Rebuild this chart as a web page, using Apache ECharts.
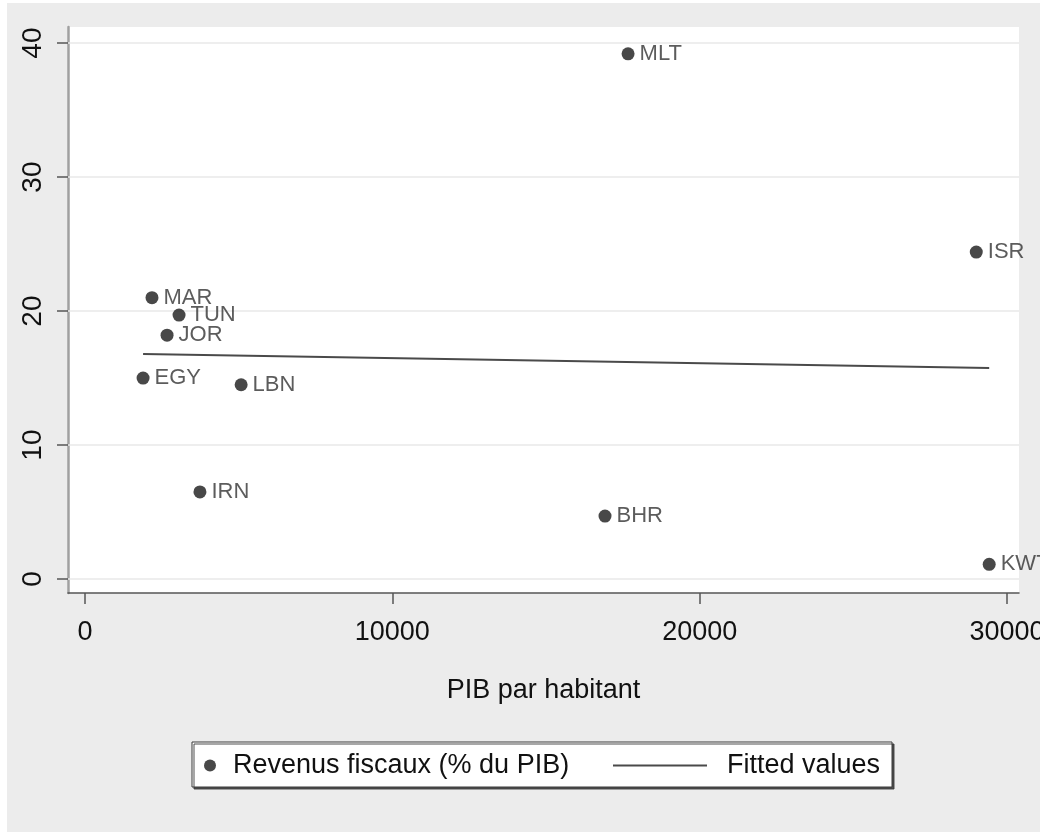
<!DOCTYPE html>
<html>
<head>
<meta charset="utf-8">
<script src="https://cdn.jsdelivr.net/npm/echarts@6/dist/echarts.min.js"></script>
<style>
  html, body { margin: 0; padding: 0; background: #fff; }
  #chart { width: 1040px; height: 832px; }
</style>
</head>
<body>
<div id="chart"></div>
<script>
// Country codes, GDP per capita and tax revenue (% of GDP)
const countries = ['MLT', 'ISR', 'MAR', 'TUN', 'JOR', 'EGY', 'LBN', 'IRN', 'BHR', 'KWT'];
const gdpPerCapita = [17670, 29000, 2180, 3060, 2670, 1890, 5080, 3740, 16920, 29420];
const taxRevenue = [39.2, 24.4, 21.0, 19.7, 18.2, 15.0, 14.5, 6.5, 4.7, 1.1];

// Linear fit endpoints (over the observed GDP range)
const fitX = [1890, 29420];
const fitY = [16.8, 15.75];

// Axis ticks
const xTicks = [0, 10000, 20000, 30000];
const yTicks = [0, 10, 20, 30, 40];

const seriesNames = ['Revenus fiscaux (% du PIB)', 'Fitted values'];
const xTitle = 'PIB par habitant';

const FONT = '"Liberation Sans", Arial, Helvetica, sans-serif';

const points = countries.map((c, i) => ({ name: c, value: [gdpPerCapita[i], taxRevenue[i]] }));
const fitLine = fitX.map((x, i) => [x, fitY[i]]);

const chart = echarts.init(document.getElementById('chart'), null, { renderer: 'canvas' });

chart.setOption({
  animation: false,
  backgroundColor: '#ffffff',
  textStyle: { fontFamily: FONT },
  graphic: [
    {
      type: 'rect', z: -10, silent: true,
      shape: { x: 7, y: 3, width: 1033, height: 829 },
      style: { fill: '#ececec' }
    },
    {
      type: 'rect', z: 3, silent: true,
      shape: { x: 192, y: 742, width: 700, height: 45 },
      style: {
        fill: '#ffffff', stroke: '#3a3a3a', lineWidth: 1,
        shadowColor: 'rgba(60,60,60,0.9)', shadowOffsetX: 2, shadowOffsetY: 2, shadowBlur: 0
      }
    }
  ],
  grid: {
    left: 68, top: 27, right: 21, bottom: 239,
    outerBoundsMode: 'none',
    containLabel: false,
    show: true, backgroundColor: '#ffffff', borderWidth: 0
  },
  xAxis: {
    type: 'value',
    min: -553, max: 30390,
    name: xTitle,
    nameLocation: 'middle',
    nameGap: 84,
    nameTextStyle: { fontSize: 27, color: '#111', fontFamily: FONT },
    axisLine: { show: true, onZero: false, lineStyle: { color: '#555', width: 1.5 } },
    axisTick: { show: true, inside: false, length: 11, customValues: xTicks, lineStyle: { color: '#555', width: 1.5 } },
    axisLabel: {
      customValues: xTicks, fontSize: 27, color: '#111', margin: 26, fontFamily: FONT,
      formatter: v => String(v), hideOverlap: false, showMinLabel: true, showMaxLabel: true
    },
    splitLine: { show: false }
  },
  yAxis: {
    type: 'value',
    min: -1.04, max: 41.2,
    axisLine: { show: true, onZero: false, lineStyle: { color: '#a0a0a0', width: 2.5 } },
    axisTick: { show: true, inside: false, length: 11, customValues: yTicks, lineStyle: { color: '#555', width: 1.5 } },
    axisLabel: {
      customValues: yTicks, rotate: 90, fontSize: 28, color: '#111', margin: 21, fontFamily: FONT,
      formatter: v => String(v), hideOverlap: false, showMinLabel: true, showMaxLabel: true
    },
    splitLine: { show: false }
  },
  legend: [
    {
      data: [{ name: seriesNames[0], icon: 'circle' }],
      left: 204, top: 752, padding: 0,
      itemWidth: 12, itemHeight: 12,
      textStyle: { fontSize: 27, color: '#111', fontFamily: FONT, padding: [0, 0, 0, 12] },
      selectedMode: false, z: 5
    },
    {
      data: [{ name: seriesNames[1], icon: 'rect' }],
      left: 613, top: 752, padding: 0,
      itemWidth: 94, itemHeight: 2,
      textStyle: { fontSize: 27, color: '#111', fontFamily: FONT, padding: [0, 0, 0, 15] },
      selectedMode: false, z: 5
    }
  ],
  series: [
    {
      name: seriesNames[0],
      type: 'scatter',
      z: 4,
      data: points,
      symbol: 'circle',
      symbolSize: 13,
      itemStyle: { color: '#1a1a1a' },
      label: {
        show: true,
        position: 'right',
        distance: 5,
        formatter: p => p.name,
        fontSize: 22,
        color: '#333',
        fontFamily: FONT
      },
      labelLayout: { hideOverlap: false }
    },
    {
      name: seriesNames[1],
      type: 'line',
      z: 3,
      data: fitLine,
      showSymbol: false,
      symbol: 'none',
      itemStyle: { color: '#4a4a4a' },
      lineStyle: { color: '#4a4a4a', width: 2 },
      markLine: {
        silent: true,
        symbol: 'none',
        z: 1,
        label: { show: false },
        lineStyle: { color: '#e9e9e9', width: 1.5, type: 'solid' },
        data: yTicks.map(v => ({ yAxis: v }))
      }
    }
  ]
});
</script>
</body>
</html>
